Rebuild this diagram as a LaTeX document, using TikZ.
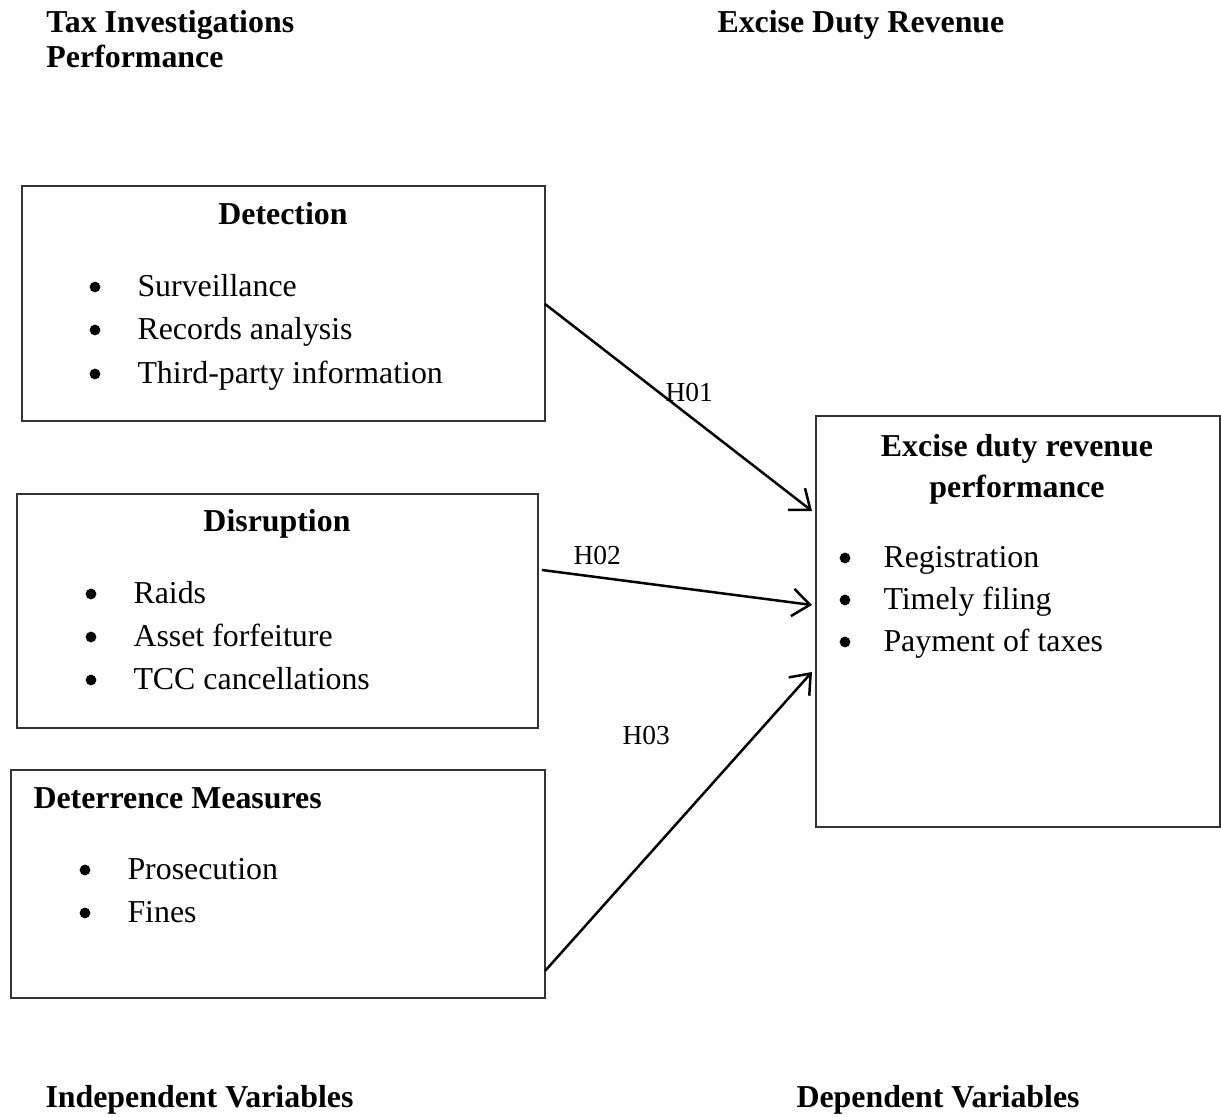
\documentclass[tikz,border=0pt]{standalone}
\usepackage{fontspec}
\setmainfont{Liberation Serif}
\usetikzlibrary{arrows.meta,fit}
\begin{document}
\begin{tikzpicture}[x=0.4pt,y=-0.4pt,
  box/.style={draw=black!80,line width=0.5pt,inner sep=0pt,rectangle},
  txt/.style={anchor=base west,inner sep=0pt,font=\fontsize{12.75}{15}\selectfont},
  ctxt/.style={anchor=base,inner sep=0pt,font=\fontsize{12.75}{15}\selectfont\bfseries},
  hd/.style={anchor=base west,inner sep=0pt,font=\fontsize{12.75}{15}\selectfont\bfseries},
  bul/.style={circle,fill=black,inner sep=0pt,minimum size=4.3pt},
  hlab/.style={anchor=base west,inner sep=0pt,font=\fontsize{11}{13}\selectfont},
  conn/.style={line width=1pt,-{Straight Barb[length=7pt,width=11pt,line width=1pt]}}]
\useasboundingbox (0,0) rectangle (1221,1117);

% headers
\node[hd] (h1) at (46,33) {Tax Investigations};
\node[hd] (h2) at (46,68) {Performance};
\node[hd] (h3) at (717,33) {Excise Duty Revenue};
\node[hd] (f1) at (45,1108) {Independent Variables};
\node[hd] (f2) at (796,1108) {Dependent Variables};

% boxes
\node[box,fit={(22,186) (545,421)}] (det) {};
\node[box,fit={(17,494) (538,728)}] (dis) {};
\node[box,fit={(11,770) (545,998)}] (ter) {};
\node[box,fit={(816,416) (1220,827)}] (exc) {};

% Detection
\node[ctxt] (detT) at (283,225) {Detection};
\node[bul] (b11) at (95,287) {};
\node[txt] (t11) at (137,297) {Surveillance};
\node[bul] (b12) at (95,330) {};
\node[txt] (t12) at (137,340) {Records analysis};
\node[bul] (b13) at (95,374) {};
\node[txt] (t13) at (137,384) {Third-party information};

% Disruption
\node[ctxt] (disT) at (277,532) {Disruption};
\node[bul] (b21) at (91,594) {};
\node[txt] (t21) at (133,604) {Raids};
\node[bul] (b22) at (91,637) {};
\node[txt] (t22) at (133,647) {Asset forfeiture};
\node[bul] (b23) at (91,680) {};
\node[txt] (t23) at (133,690) {TCC cancellations};

% Deterrence
\node[hd] (terT) at (33,809) {Deterrence Measures};
\node[bul] (b31) at (85,870) {};
\node[txt] (t31) at (127,880) {Prosecution};
\node[bul] (b32) at (85,913) {};
\node[txt] (t32) at (127,923) {Fines};

% Excise
\node[ctxt] (excT1) at (1017,457) {Excise duty revenue};
\node[ctxt] (excT2) at (1017,498) {performance};
\node[bul] (b41) at (845,558) {};
\node[txt] (t41) at (883,568) {Registration};
\node[bul] (b42) at (845,600) {};
\node[txt] (t42) at (883,610) {Timely filing};
\node[bul] (b43) at (845,642) {};
\node[txt] (t43) at (883,652) {Payment of taxes};

% connector end points on the box borders
\coordinate (s1) at (545,304);
\coordinate (s2) at (542,570);
\coordinate (s3) at (545,971);
\coordinate (e1) at (812,511);
\coordinate (e2) at (812,605);
\coordinate (e3) at (812,672);

\draw[conn] (s1) -- (e1);
\draw[conn] (s2) -- (e2);
\draw[conn] (s3) -- (e3);

\node[hlab] (H1) at (665,402) {H01};
\node[hlab] (H2) at (573,565) {H02};
\node[hlab] (H3) at (622,745) {H03};
\end{tikzpicture}
\end{document}
